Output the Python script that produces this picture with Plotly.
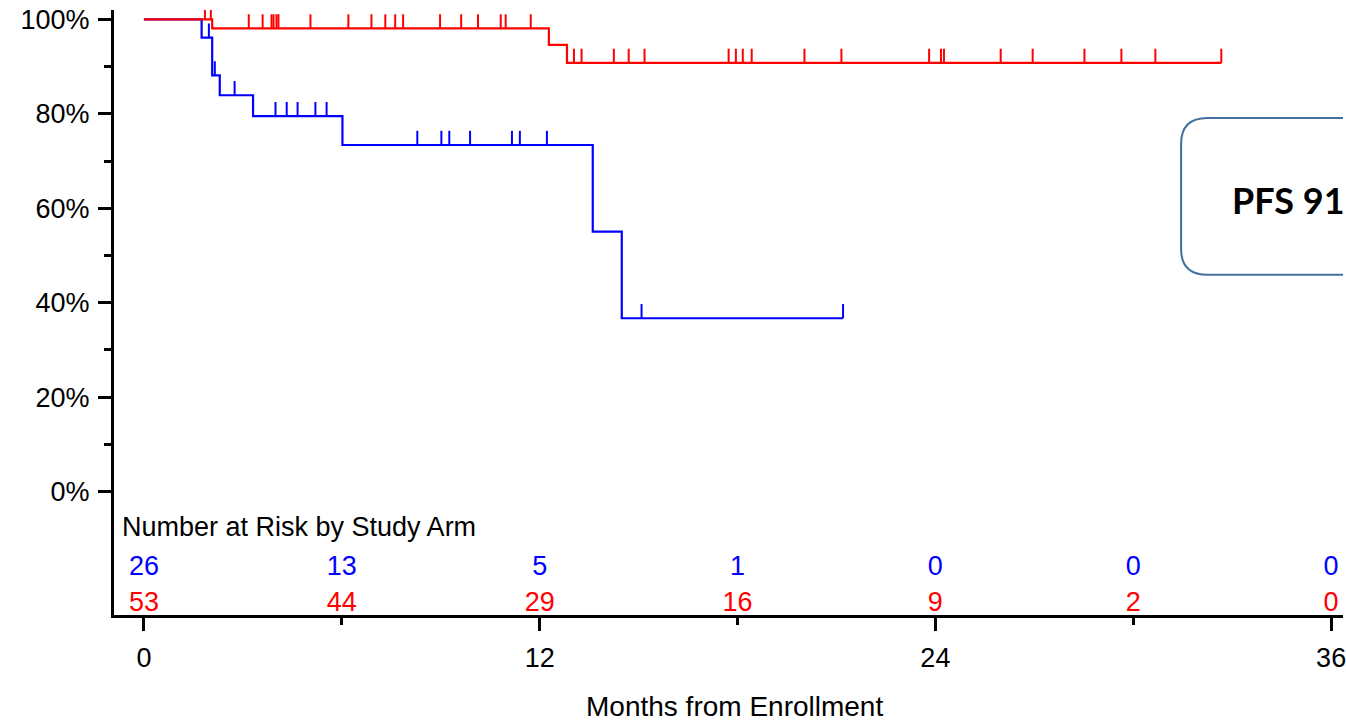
import numpy as np
import plotly.graph_objects as go

# ---------------- data ----------------
# Blue arm: event times (months) and survival (%) after each event
blue_event_times = [1.75, 2.07, 2.30, 3.31, 6.02, 13.61, 14.49]
blue_surv = [96.15, 88.14, 83.94, 79.52, 73.40, 55.05, 36.70]
blue_censor_times = [1.97, 2.15, 2.75, 3.99, 4.33, 4.66, 5.20, 5.54, 8.29, 9.02,
                     9.26, 9.89, 11.16, 11.40, 12.22, 15.09, 21.20]

# Red arm
red_event_times = [2.07, 12.28, 12.83]
red_surv = [98.1, 94.6, 90.8]
red_censor_times = [1.85, 2.03, 3.18, 3.60, 3.87, 3.93, 4.02, 4.08, 5.05, 6.20,
                    6.90, 7.32, 7.62, 7.86, 8.98, 9.62, 10.13, 10.82, 10.97, 11.73,
                    13.04, 13.27, 14.25, 14.70, 15.18, 17.73, 17.95, 18.16, 18.43,
                    20.03, 21.15, 23.81, 24.17, 24.26, 25.98, 26.95, 28.52, 29.64,
                    30.67, 32.67]

# Number at risk table
risk_times = [0, 6, 12, 18, 24, 30, 36]
blue_at_risk = [26, 13, 5, 1, 0, 0, 0]
red_at_risk = [53, 44, 29, 16, 9, 2, 0]

# Axis ticks
x_tick_vals = [0, 12, 24, 36]
x_minor_vals = [6, 18, 30]
y_tick_vals = [0, 20, 40, 60, 80, 100]
y_tick_text = ["0%", "20%", "40%", "60%", "80%", "100%"]
y_minor_vals = [10, 30, 50, 70, 90]

BLUE = "#0000FF"
RED = "#FF0000"
FONT = "Liberation Sans, Arial, sans-serif"
CENSOR_H = 3.0  # height of censor tick in % units


def step_xy(events, surv, censors):
    end = max(censors)
    xs = [0] + list(events) + [end]
    ys = [100] + list(surv) + [surv[-1]]
    return xs, ys


def censor_segments(events, surv, censors):
    ev = np.array(events)
    sv = np.array(surv)
    xs, ys = [], []
    for t in censors:
        idx = np.searchsorted(ev, t, side="right") - 1
        lvl = 100.0 if idx < 0 else float(sv[idx])
        xs += [t, t, None]
        ys += [lvl, lvl + CENSOR_H, None]
    return xs, ys


fig = go.Figure()

for events, surv, censors, col in [
    (blue_event_times, blue_surv, blue_censor_times, BLUE),
    (red_event_times, red_surv, red_censor_times, RED),
]:
    sx, sy = step_xy(events, surv, censors)
    fig.add_trace(go.Scatter(x=sx, y=sy, mode="lines", line=dict(color=col, width=2.2, shape="hv"),
                             hoverinfo="skip"))
    cx, cy = censor_segments(events, surv, censors)
    fig.add_trace(go.Scatter(x=cx, y=cy, mode="lines", line=dict(color=col, width=2),
                             hoverinfo="skip"))

# Number at risk rows
fig.add_trace(go.Scatter(x=risk_times, y=[-16.2] * len(risk_times), mode="text",
                         text=[str(v) for v in blue_at_risk], textposition="middle center",
                         textfont=dict(color=BLUE, size=27, family=FONT), cliponaxis=False,
                         hoverinfo="skip"))
fig.add_trace(go.Scatter(x=risk_times, y=[-23.8] * len(risk_times), mode="text",
                         text=[str(v) for v in red_at_risk], textposition="middle center",
                         textfont=dict(color=RED, size=27, family=FONT), cliponaxis=False,
                         hoverinfo="skip"))

fig.add_annotation(x=-0.74, y=-7.6, xref="x", yref="y", text="Number at Risk by Study Arm",
                   showarrow=False, xanchor="left", yanchor="middle",
                   font=dict(size=27, color="black", family=FONT))

fig.add_annotation(x=0.505, y=-0.152, xref="paper", yref="paper", text="Months from Enrollment",
                   showarrow=False, xanchor="center", yanchor="middle",
                   font=dict(size=28, color="black", family=FONT))

# Rounded callout box (partially cut off at the right edge, as in the reference)
bx0, bx1, by0, by1 = 31.45, 40.0, 45.9, 79.1
rx, ry = 0.8, 5.5
path = (f"M {bx0+rx},{by1} L {bx1},{by1} L {bx1},{by0} L {bx0+rx},{by0} "
        f"Q {bx0},{by0} {bx0},{by0+ry} L {bx0},{by1-ry} Q {bx0},{by1} {bx0+rx},{by1} Z")
fig.add_shape(type="path", path=path, xref="x", yref="y",
              line=dict(color="#41719C", width=2), fillcolor="rgba(0,0,0,0)")
fig.add_annotation(x=32.92, y=61.8, xref="x", yref="y", text="<b>PFS 91</b>",
                   showarrow=False, xanchor="left", yanchor="middle",
                   font=dict(size=36, color="black", family="Lato, Open Sans, sans-serif"))

fig.update_layout(
    width=1346, height=725,
    margin=dict(l=114, r=0, t=10, b=110),
    plot_bgcolor="white", paper_bgcolor="white",
    showlegend=False,
    font=dict(family=FONT, color="black"),
    xaxis=dict(range=[-0.907, 36.36], showline=True, linecolor="black", linewidth=3,
               showgrid=False, zeroline=False, ticks="outside", tickvals=x_tick_vals,
               ticklen=13, tickwidth=3, tickcolor="black",
               tickfont=dict(size=27, color="black", family=FONT),
               ticklabelstandoff=4, ticklabeloverflow="allow",
               minor=dict(tickvals=x_minor_vals, ticks="outside", ticklen=7, tickwidth=3,
                          tickcolor="black", showgrid=False)),
    yaxis=dict(range=[-26.17, 102.0], showline=True, linecolor="black", linewidth=3,
               showgrid=False, zeroline=False, ticks="outside", tickvals=y_tick_vals,
               ticktext=y_tick_text, ticklen=13, tickwidth=3, tickcolor="black",
               tickfont=dict(size=27, color="black", family=FONT),
               ticklabelstandoff=3,
               minor=dict(tickvals=y_minor_vals, ticks="outside", ticklen=7, tickwidth=3,
                          tickcolor="black", showgrid=False)),
)

fig.write_html("out.html")
